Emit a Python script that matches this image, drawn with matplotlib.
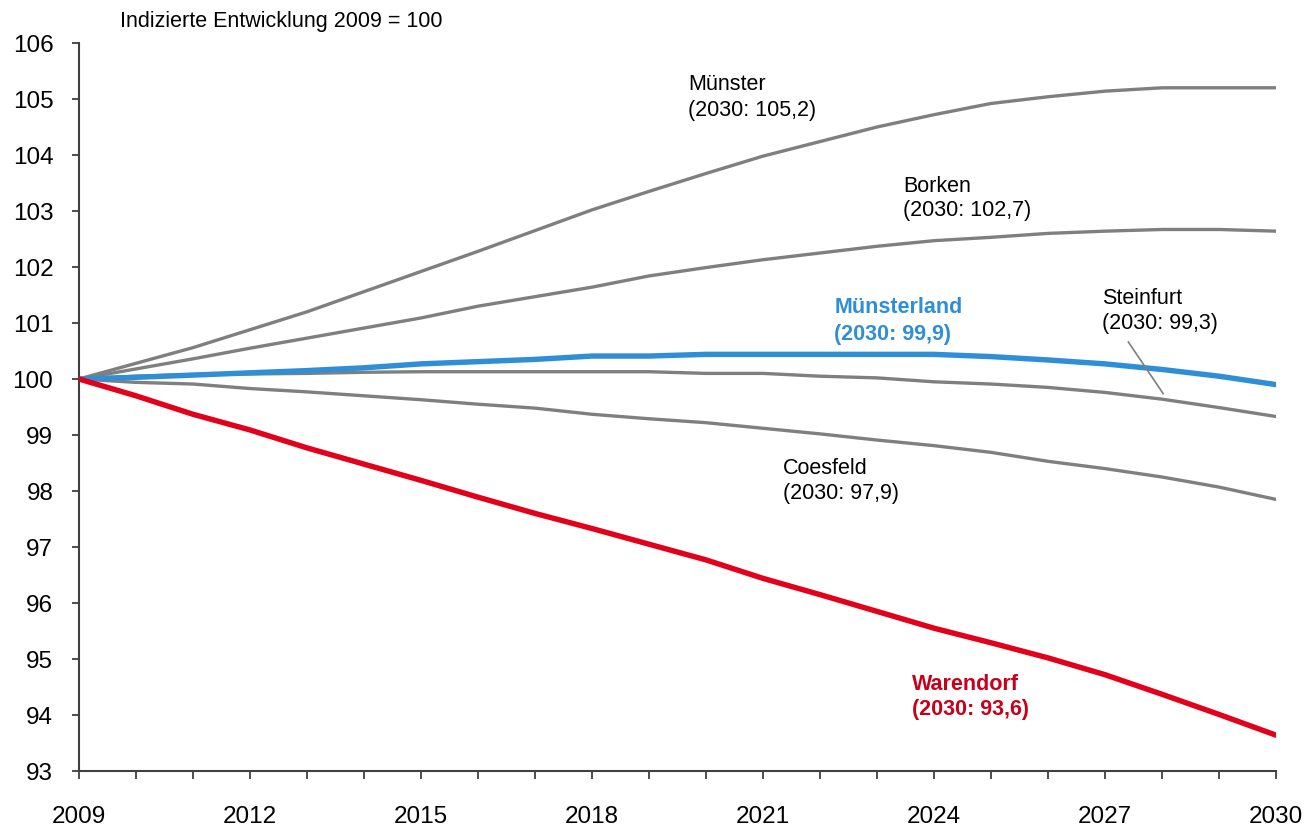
import matplotlib
matplotlib.use("Agg")
import matplotlib.pyplot as plt
from matplotlib.ticker import MultipleLocator

plt.rcParams['font.family'] = ['Liberation Sans', 'DejaVu Sans']

years = list(range(2009, 2031))
muenster = [100, 100.28, 100.56, 100.88, 101.2, 101.56, 101.92, 102.28, 102.65, 103.02, 103.35,
            103.67, 103.98, 104.24, 104.5, 104.72, 104.92, 105.04, 105.14, 105.2, 105.2, 105.2]
borken = [100, 100.18, 100.36, 100.55, 100.73, 100.91, 101.09, 101.3, 101.47, 101.64, 101.84,
          101.99, 102.13, 102.25, 102.37, 102.47, 102.53, 102.6, 102.64, 102.67, 102.67, 102.64]
muensterland = [100, 100.03, 100.07, 100.11, 100.15, 100.2, 100.27, 100.31, 100.35, 100.41, 100.41,
                100.44, 100.44, 100.44, 100.44, 100.44, 100.4, 100.34, 100.27, 100.17, 100.05, 99.9]
steinfurt = [100, 100.05, 100.08, 100.09, 100.1, 100.12, 100.13, 100.13, 100.13, 100.13, 100.13,
             100.1, 100.1, 100.05, 100.02, 99.95, 99.91, 99.85, 99.76, 99.64, 99.49, 99.33]
coesfeld = [100, 99.94, 99.91, 99.83, 99.77, 99.7, 99.63, 99.55, 99.48, 99.37, 99.29,
            99.22, 99.12, 99.02, 98.91, 98.81, 98.69, 98.53, 98.4, 98.25, 98.07, 97.85]
warendorf = [100, 99.7, 99.37, 99.09, 98.77, 98.48, 98.19, 97.89, 97.6, 97.33, 97.05,
             96.77, 96.44, 96.15, 95.85, 95.55, 95.29, 95.02, 94.72, 94.37, 94.01, 93.64]

xtick_labels = [2009, 2012, 2015, 2018, 2021, 2024, 2027, 2030]

GREY = '#7f7f7f'
BLUE = '#2e8fd6'
RED = '#e2001a'
DARK_RED = '#c8001a'

fig = plt.figure(figsize=(13.1, 8.29), dpi=100)
ax = fig.add_axes([79/1310, 1-772/829, (1276-79)/1310, (772-44)/829])

for s in (muenster, borken, steinfurt, coesfeld):
    ax.plot(years, s, color=GREY, lw=2.4, solid_capstyle='round', zorder=2)
ax.plot(years, muensterland, color=BLUE, lw=3.9, solid_capstyle='round', zorder=3)
ax.plot(years, warendorf, color=RED, lw=3.9, solid_capstyle='round', zorder=3)

ax.set_xlim(2009, 2030)
ax.set_ylim(93, 106)
ax.set_xticks(xtick_labels)
ax.xaxis.set_minor_locator(MultipleLocator(1))
ax.yaxis.set_major_locator(MultipleLocator(1))
for sp in ('top', 'right'):
    ax.spines[sp].set_visible(False)
for sp in ('left', 'bottom'):
    ax.spines[sp].set_color('#404040')
    ax.spines[sp].set_linewidth(1.5)
ax.tick_params(axis='both', which='both', direction='out', color='#404040', width=1.3,
               labelsize=17.5, labelcolor='black')
ax.tick_params(axis='x', which='both', length=5.8, pad=18.5)
ax.tick_params(axis='y', which='major', length=5, pad=13.5)

fs = 15.5
labels = [
    (2019.68, 105.18, 104.71, 'Münster', '(2030: 105,2)', 'black', 'normal'),
    (2023.46, 103.36, 102.92, 'Borken', '(2030: 102,7)', 'black', 'normal'),
    (2022.25, 101.19, 100.71, 'Münsterland', '(2030: 99,9)', BLUE, 'bold'),
    (2026.95, 101.36, 100.91, 'Steinfurt', '(2030: 99,3)', 'black', 'normal'),
    (2021.35, 98.32, 97.88, 'Coesfeld', '(2030: 97,9)', 'black', 'normal'),
    (2023.61, 94.46, 94.02, 'Warendorf', '(2030: 93,6)', DARK_RED, 'bold'),
]
for x, y1, y2, t1, t2, c, w in labels:
    ax.text(x, y1, t1, fontsize=fs, ha='left', va='baseline', color=c, fontweight=w)
    ax.text(x, y2, t2, fontsize=fs, ha='left', va='baseline', color=c, fontweight=w)
ax.plot([2027.41, 2028.02], [100.66, 99.74], color=GREY, lw=1.2, zorder=4)

fig.text(120/1310, 1-27.3/829, 'Indizierte Entwicklung 2009 = 100', fontsize=15.5, ha='left', va='baseline')

fig.savefig('out.png', dpi=100)
